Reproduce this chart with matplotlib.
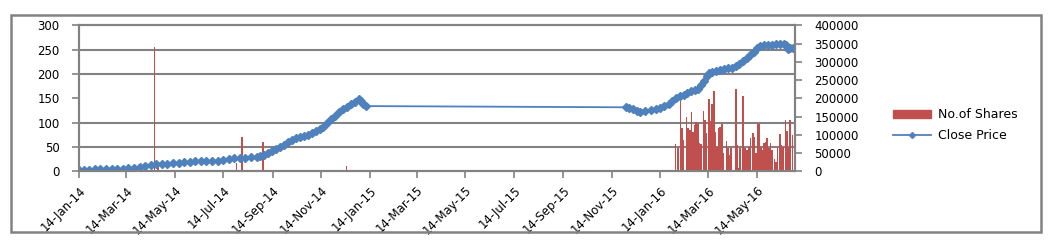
import matplotlib
matplotlib.use("Agg")
import matplotlib.pyplot as plt
import matplotlib.dates as mdates
from matplotlib.patches import Rectangle, Patch
from matplotlib.lines import Line2D
from matplotlib.ticker import MultipleLocator
import pandas as pd

# close price
price_dates = [
    "2014-01-14", "2014-01-20", "2014-01-27", "2014-02-03", "2014-02-10", "2014-02-17",
    "2014-02-24", "2014-03-03", "2014-03-10", "2014-03-17", "2014-03-24", "2014-03-31",
    "2014-04-07", "2014-04-14", "2014-04-21", "2014-04-28", "2014-05-05", "2014-05-12",
    "2014-05-19", "2014-05-26", "2014-06-02", "2014-06-09", "2014-06-16", "2014-06-23",
    "2014-06-30", "2014-07-07", "2014-07-14", "2014-07-21", "2014-07-28", "2014-08-04",
    "2014-08-11", "2014-08-18", "2014-08-25", "2014-08-29", "2014-09-03", "2014-09-08",
    "2014-09-13", "2014-09-18", "2014-09-23", "2014-09-28", "2014-10-03", "2014-10-08",
    "2014-10-13", "2014-10-18", "2014-10-23", "2014-10-28", "2014-11-02", "2014-11-07",
    "2014-11-12", "2014-11-17", "2014-11-22", "2014-11-27", "2014-12-02", "2014-12-07",
    "2014-12-12", "2014-12-17", "2014-12-22", "2014-12-27", "2014-12-31", "2015-01-03",
    "2015-01-06", "2015-01-09",
    "2015-12-02", "2015-12-06", "2015-12-10", "2015-12-15", "2015-12-20", "2015-12-26",
    "2016-01-02", "2016-01-08", "2016-01-14", "2016-01-19", "2016-01-25", "2016-01-29",
    "2016-02-02", "2016-02-07", "2016-02-12", "2016-02-17", "2016-02-22", "2016-02-26",
    "2016-03-01", "2016-03-05", "2016-03-09", "2016-03-12", "2016-03-15", "2016-03-19",
    "2016-03-24", "2016-03-29", "2016-04-03", "2016-04-08", "2016-04-13", "2016-04-18",
    "2016-04-22", "2016-04-27", "2016-05-02", "2016-05-06", "2016-05-10", "2016-05-14",
    "2016-05-18", "2016-05-23", "2016-05-28", "2016-06-02", "2016-06-07", "2016-06-12",
    "2016-06-17", "2016-06-20", "2016-06-22", "2016-06-25", "2016-06-28",
]
close_price = [
    2.0, 2.3, 3.0, 3.8, 4.2, 4.5,
    4.8, 5.0, 5.3, 5.8, 7.0, 8.5,
    10.2, 12.5, 14.0, 15.0, 16.0, 17.2,
    18.0, 18.8, 19.5, 20.5, 21.0, 21.3,
    21.6, 22.0, 23.5, 25.0, 26.5, 27.5,
    28.0, 28.4, 28.8, 30.5, 34, 38,
    41, 45, 49, 55, 60, 64,
    68, 71, 73, 75.5, 79, 82,
    86, 92, 99, 107, 114, 121,
    127, 133, 138, 143, 149, 145,
    138, 134,
    131.5, 130, 127, 124, 122, 123,
    125, 127.5, 130, 134, 139, 145,
    151, 154, 157, 160, 164, 167,
    170, 177, 185, 196, 202, 204,
    206, 208, 210, 211.5, 213, 216,
    220, 227, 233, 239, 246, 253,
    257, 259, 260, 260.5, 261, 261.5,
    262.5, 260, 252, 254, 253,
]

# number of shares traded
share_dates = [
    "2014-04-19", "2014-04-23", "2014-07-31", "2014-08-07", "2014-09-02", "2014-09-23",
    "2014-12-16",
    "2016-02-02", "2016-02-05", "2016-02-08", "2016-02-10", "2016-02-12", "2016-02-16",
    "2016-02-18", "2016-02-20", "2016-02-22", "2016-02-24", "2016-02-26", "2016-02-28",
    "2016-03-01", "2016-03-03", "2016-03-05", "2016-03-08", "2016-03-10", "2016-03-12",
    "2016-03-15", "2016-03-17", "2016-03-19", "2016-03-21", "2016-03-23", "2016-03-25",
    "2016-03-27", "2016-03-29", "2016-03-31", "2016-04-02", "2016-04-06", "2016-04-08",
    "2016-04-10", "2016-04-12", "2016-04-18", "2016-04-20", "2016-04-22", "2016-04-23",
    "2016-04-27", "2016-04-29", "2016-05-02", "2016-05-04", "2016-05-06", "2016-05-09",
    "2016-05-11", "2016-05-13", "2016-05-15", "2016-05-17", "2016-05-19", "2016-05-21",
    "2016-05-23", "2016-05-25", "2016-05-27", "2016-05-29", "2016-05-31", "2016-06-02",
    "2016-06-05", "2016-06-07", "2016-06-09", "2016-06-12", "2016-06-14", "2016-06-16",
    "2016-06-19", "2016-06-21", "2016-06-23", "2016-06-25", "2016-06-28",
]
shares = [
    341000, 12000, 22000, 93000, 81000, 2000,
    14500,
    74000, 63000, 200000, 118000, 86000, 148000,
    118000, 113000, 163000, 109000, 127000, 136000,
    131000, 78000, 75000, 165000, 140000, 104000,
    197000, 138000, 184000, 220000, 109000, 67000,
    118000, 122000, 130000, 49000, 83000, 63000,
    45000, 63000, 225000, 72000, 8000, 63000,
    205000, 63000, 58000, 67000, 90000, 106000,
    95000, 49000, 131000, 130000, 67000, 58000,
    77000, 81000, 92000, 63000, 77000, 58000,
    35000, 26000, 63000, 102000, 72000, 67000,
    140000, 111000, 67000, 140000, 100000,
]

x_start = "2014-01-14"
x_end = "2016-07-01"

RED = "#C0504D"
BLUE = "#4F81BD"
GRAY = "#828282"

plt.rcParams["font.family"] = "DejaVu Sans"
plt.rcParams["font.size"] = 8.5

fig = plt.figure(figsize=(10.53, 2.43), dpi=100)
ax = fig.add_axes([0.075, 0.295, 0.68, 0.601])
ax2 = ax.twinx()
# bars behind, price line on top
ax.set_zorder(ax2.get_zorder() + 1)
ax.patch.set_visible(False)

pdates = pd.to_datetime(price_dates)
sdates = pd.to_datetime(share_dates)

ax2.bar(sdates, shares, width=2.0, color=RED, linewidth=0)
ax.plot(pdates, close_price, color=BLUE, lw=1.3, marker="D", ms=3.8,
        mec=BLUE, mfc=BLUE)

ax.set_xlim(pd.Timestamp(x_start), pd.Timestamp(x_end))
ax.set_ylim(0, 300)
ax2.set_ylim(0, 400000)
ax.yaxis.set_major_locator(MultipleLocator(50))
ax2.yaxis.set_major_locator(MultipleLocator(50000))

# horizontal gridlines follow the left scale, drawn on the bar axis so they sit behind
ax2.yaxis.set_minor_locator(MultipleLocator(400000 / 6))
ax2.grid(which="minor", axis="y", color=GRAY, lw=1.5)
ax2.tick_params(which="minor", length=0)
ax2.set_axisbelow(True)

ax.xaxis.set_major_locator(mdates.MonthLocator(bymonth=(1, 3, 5, 7, 9, 11), bymonthday=14))
ax.xaxis.set_major_formatter(mdates.DateFormatter("%d-%b-%y"))
for lab in ax.get_xticklabels():
    lab.set_rotation(45)
    lab.set_ha("right")
    lab.set_rotation_mode("anchor")

for a in (ax, ax2):
    for s in a.spines.values():
        s.set_color(GRAY)
        s.set_linewidth(1.5)
ax.tick_params(axis="both", colors=GRAY, labelcolor="black", length=5, width=1.2, pad=9)
ax.tick_params(axis="x", pad=4)
ax2.tick_params(axis="y", colors=GRAY, labelcolor="black", length=5, width=1.2, pad=9)

handles = [Patch(color=RED), Line2D([], [], color=BLUE, lw=1.3, marker="D", ms=3)]
fig.legend(handles, ["No.of Shares", "Close Price"], loc="center left",
           bbox_to_anchor=(0.837, 0.485), frameon=False, handlelength=3.1,
           handleheight=0.6, handletextpad=0.5, labelspacing=0.6, fontsize=9)

fig.patches.append(Rectangle((0.0105, 0.045), 0.978, 0.895, transform=fig.transFigure,
                             fill=False, edgecolor=GRAY, lw=1.8))

fig.savefig("out.png", dpi=100)
